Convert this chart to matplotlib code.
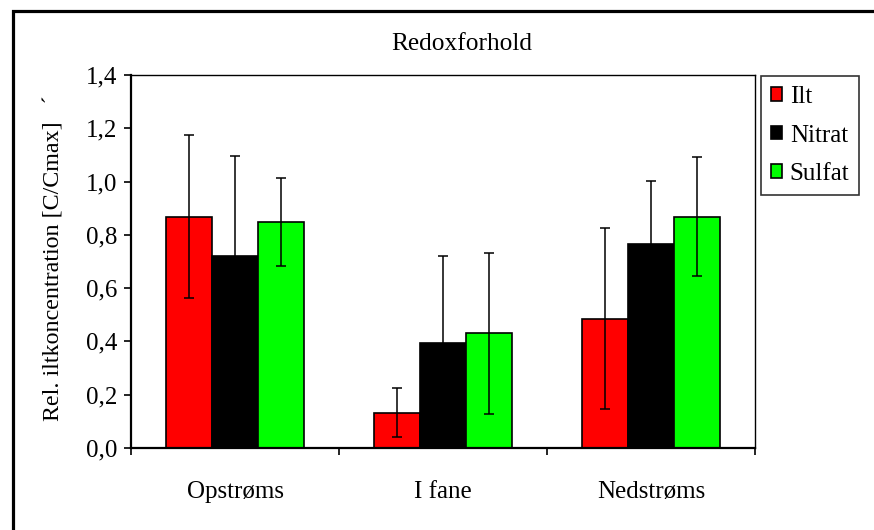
import matplotlib
matplotlib.use("Agg")
import matplotlib.pyplot as plt
import matplotlib.patches as mpatches
from matplotlib.ticker import FixedLocator, FuncFormatter
import numpy as np

plt.rcParams['font.family'] = ['Liberation Serif', 'DejaVu Serif']

categories = ["Opstrøms", "I fane", "Nedstrøms"]
series = ["Ilt", "Nitrat", "Sulfat"]
colors = ["#FF0000", "#000000", "#00FF00"]
values = {
    "Ilt":    [0.868, 0.133, 0.486],
    "Nitrat": [0.721, 0.394, 0.765],
    "Sulfat": [0.849, 0.430, 0.868],
}
errors = {
    "Ilt":    [0.305, 0.092, 0.340],
    "Nitrat": [0.376, 0.326, 0.238],
    "Sulfat": [0.165, 0.302, 0.224],
}
yticks = [0.0, 0.2, 0.4, 0.6, 0.8, 1.0, 1.2, 1.4]

W, H = 874, 530
fig = plt.figure(figsize=(W / 100, H / 100), dpi=100)
ax = fig.add_axes([131 / W, 1 - 448 / H, (755 - 131) / W, (448 - 75) / H])

x = np.arange(len(categories))
bw = 0.222
for i, s in enumerate(series):
    ax.bar(x + (i - 1) * bw, values[s], width=bw, color=colors[i],
           edgecolor="black", linewidth=1.2, label=s, zorder=2)
    ax.errorbar(x + (i - 1) * bw, values[s], yerr=errors[s], fmt="none",
                ecolor="black", elinewidth=1.1, capsize=3.3, capthick=1.1, zorder=3)

ax.set_xlim(-0.5, 2.5)
ax.set_ylim(0, 1.4)
ax.set_yticks(yticks)
ax.yaxis.set_major_formatter(FuncFormatter(lambda v, p: f"{v:.1f}".replace(".", ",")))
ax.set_xticks(x)
ax.set_xticklabels(categories)
ax.xaxis.set_minor_locator(FixedLocator([-0.5, 0.5, 1.5, 2.5]))
ax.tick_params(axis="x", which="major", length=0, pad=24, labelsize=18)
ax.tick_params(axis="x", which="minor", length=5, width=1.2, direction="out")
ax.tick_params(axis="y", length=5, width=1.2, direction="out", pad=5, labelsize=18)

for side in ["left", "bottom"]:
    ax.spines[side].set_linewidth(1.6)
for side in ["top", "right"]:
    ax.spines[side].set_linewidth(1.0)

ax.set_ylabel("Rel. iltkoncentration [C/Cmax]   \u00b4", fontsize=17.3)
ax.yaxis.set_label_coords(-0.107, 0.51)

fig.text(462 / W, 1 - 44 / H, "Redoxforhold", ha="center", va="center", fontsize=18.3)

leg = fig.legend(loc="upper left", bbox_to_anchor=(761 / W, 1 - 76 / H),
                 borderaxespad=0, fontsize=18, frameon=True, fancybox=False,
                 edgecolor="black", handlelength=0.45, handleheight=0.45,
                 handletextpad=0.3, labelspacing=0.66, borderpad=0.4)
leg.get_frame().set_linewidth(1.2)

frame = mpatches.Rectangle((12.5 / W, -0.1), 1.2, 1 - 10.5 / H + 0.1,
                           transform=fig.transFigure, fill=False,
                           edgecolor="black", linewidth=2.3, clip_on=False)
fig.patches.append(frame)

fig.savefig("out.png", dpi=100)
